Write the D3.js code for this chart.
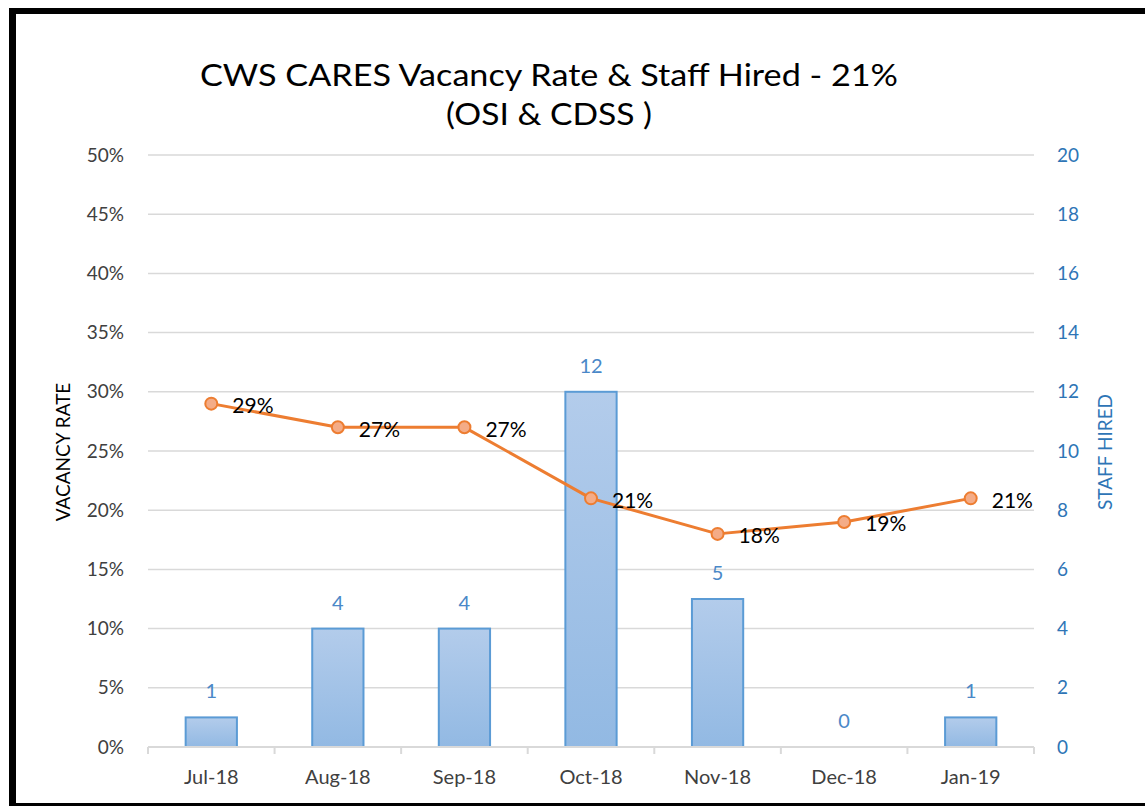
<!DOCTYPE html>
<html><head><meta charset="utf-8">
<script src="https://cdn.jsdelivr.net/npm/d3@7/dist/d3.min.js"></script>
<style>
html,body{margin:0;padding:0;background:#fff;}
text{font-family:Lato,"Open Sans",sans-serif;}
</style></head>
<body>
<svg id="chart" width="1145" height="806"></svg>
<script>
const categories = ["Jul-18","Aug-18","Sep-18","Oct-18","Nov-18","Dec-18","Jan-19"];
const staffHired = [1,4,4,12,5,0,1];
const vacancyRate = [0.29,0.27,0.27,0.21,0.18,0.19,0.21];
const leftTicks = [0,0.05,0.10,0.15,0.20,0.25,0.30,0.35,0.40,0.45,0.50];
const rightTicks = [0,2,4,6,8,10,12,14,16,18,20];
const titleLines = ["CWS CARES Vacancy Rate & Staff Hired - 21%","(OSI & CDSS )"];

const svg = d3.select("#chart");
const W = 1145, H = 806;
const m = {left:148, right:1034, top:155, bottom:747};

// frame
svg.append("rect").attr("x",0).attr("y",0).attr("width",W).attr("height",H).attr("fill","#fff");
svg.append("rect").attr("x",9).attr("y",8).attr("width",W-9).attr("height",6).attr("fill","#000");
svg.append("rect").attr("x",9).attr("y",8).attr("width",7).attr("height",H-8).attr("fill","#000");
svg.append("rect").attr("x",9).attr("y",803).attr("width",W-9).attr("height",3).attr("fill","#000");

const x = d3.scaleBand().domain(categories).range([m.left,m.right]).paddingInner(0.595).paddingOuter(0.2975);
const xb = d3.scaleBand().domain(categories).range([m.left,m.right]);
const yL = d3.scaleLinear().domain([0,0.5]).range([m.bottom,m.top]);
const yR = d3.scaleLinear().domain([0,20]).range([m.bottom,m.top]);

// gradient
const defs = svg.append("defs");
const g = defs.append("linearGradient").attr("id","barGrad").attr("x1",0).attr("y1",0).attr("x2",0).attr("y2",1);
g.append("stop").attr("offset","0%").attr("stop-color","#B3CCEB");
g.append("stop").attr("offset","100%").attr("stop-color","#92B9E3");

// gridlines
svg.append("g").selectAll("line").data(leftTicks.slice(1)).join("line")
  .attr("x1",m.left).attr("x2",m.right)
  .attr("y1",d=>yL(d)).attr("y2",d=>yL(d))
  .attr("stroke","#D9D9D9").attr("stroke-width",1.5);

// left axis labels
svg.append("g").selectAll("text").data(leftTicks).join("text")
  .attr("x",124).attr("y",d=>yL(d)).attr("dy","0.35em")
  .attr("text-anchor","end").attr("font-size",19).attr("fill","#404040")
  .text(d=>d3.format(".0%")(d));

// right axis labels
svg.append("g").selectAll("text").data(rightTicks).join("text")
  .attr("x",1057).attr("y",d=>yR(d)).attr("dy","0.35em")
  .attr("text-anchor","start").attr("font-size",19).attr("fill","#2E75B6")
  .text(d=>d);

// bars
svg.append("g").selectAll("rect").data(staffHired).join("rect")
  .attr("x",(d,i)=>x(categories[i]))
  .attr("width",x.bandwidth())
  .attr("y",d=>yR(d))
  .attr("height",d=>m.bottom-yR(d))
  .attr("fill","url(#barGrad)")
  .attr("stroke","#5B9BD5").attr("stroke-width",2)
  .attr("display",d=>d>0?null:"none");

// bar labels
svg.append("g").selectAll("text").data(staffHired).join("text")
  .attr("x",(d,i)=>x(categories[i])+x.bandwidth()/2)
  .attr("y",d=>yR(d)-19)
  .attr("text-anchor","middle").attr("font-size",20).attr("fill","#4A88C8")
  .text(d=>d);

// x axis line
svg.append("line").attr("x1",m.left).attr("x2",m.right).attr("y1",m.bottom).attr("y2",m.bottom)
  .attr("stroke","#D9D9D9").attr("stroke-width",2);
const bounds = categories.map(c=>xb(c)).concat([m.right]);
svg.append("g").selectAll("line").data(bounds).join("line")
  .attr("x1",d=>d).attr("x2",d=>d).attr("y1",m.bottom).attr("y2",m.bottom+7)
  .attr("stroke","#D9D9D9").attr("stroke-width",2);

// x labels
svg.append("g").selectAll("text").data(categories).join("text")
  .attr("x",d=>xb(d)+xb.bandwidth()/2).attr("y",777).attr("dy","0.35em")
  .attr("text-anchor","middle").attr("font-size",20).attr("fill","#404040")
  .text(d=>d);

// line
const cx = i => xb(categories[i])+xb.bandwidth()/2;
const line = d3.line().x((d,i)=>cx(i)).y(d=>yL(d));
svg.append("path").datum(vacancyRate).attr("d",line)
  .attr("fill","none").attr("stroke","#ED7D31").attr("stroke-width",3).attr("stroke-linejoin","round");
svg.append("g").selectAll("circle").data(vacancyRate).join("circle")
  .attr("cx",(d,i)=>cx(i)).attr("cy",d=>yL(d)).attr("r",6)
  .attr("fill","#F4AC87").attr("stroke","#ED7D31").attr("stroke-width",2);
svg.append("g").selectAll("text").data(vacancyRate).join("text")
  .attr("x",(d,i)=>cx(i)+21).attr("y",d=>yL(d)+2).attr("dy","0.35em")
  .attr("text-anchor","start").attr("font-size",21).attr("fill","#000")
  .text(d=>d3.format(".0%")(d));

// title
svg.append("text").attr("x",549).attr("y",86).attr("text-anchor","middle")
  .attr("font-size",31).attr("fill","#000")
  .attr("textLength",698).attr("lengthAdjust","spacingAndGlyphs").text(titleLines[0]);
svg.append("text").attr("x",549).attr("y",125).attr("text-anchor","middle")
  .attr("font-size",31).attr("fill","#000")
  .attr("textLength",206).attr("lengthAdjust","spacingAndGlyphs").text(titleLines[1]);

// axis titles
svg.append("text").attr("transform","translate(70,452) rotate(-90)")
  .attr("text-anchor","middle").attr("font-size",19).attr("fill","#000").text("VACANCY RATE");
svg.append("text").attr("transform","translate(1112,452) rotate(-90)")
  .attr("text-anchor","middle").attr("font-size",19).attr("fill","#2E75B6").text("STAFF HIRED");
</script>
</body></html>
